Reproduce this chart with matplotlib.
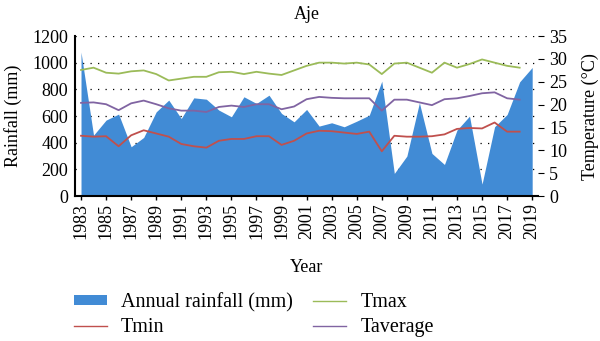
import matplotlib
matplotlib.use("Agg")
import matplotlib.pyplot as plt
from matplotlib.patches import Patch
from matplotlib.lines import Line2D

plt.rcParams['font.family'] = ['Liberation Serif', 'DejaVu Serif']

years = list(range(1983, 2020))
rainfall = [1080, 457, 570, 615, 370, 440, 632, 720, 582, 737, 727, 645, 595, 745, 695, 757,
            620, 557, 650, 525, 550, 520, 562, 607, 862, 170, 300, 700, 320, 237, 495, 600,
            90, 520, 612, 857, 965]
temp_years = list(range(1983, 2019))
tmax = [27.6, 28.1, 27.0, 26.8, 27.3, 27.5, 26.7, 25.3, 25.7, 26.1, 26.1, 27.1, 27.2, 26.7,
        27.2, 26.8, 26.5, 27.5, 28.5, 29.2, 29.2, 29.0, 29.2, 28.8, 26.7, 29.0, 29.2, 28.1,
        27.0, 29.2, 28.1, 28.9, 29.9, 29.2, 28.5, 28.1]
tavg = [20.4, 20.5, 20.1, 18.8, 20.3, 20.9, 20.1, 19.2, 18.7, 18.7, 18.4, 19.5, 19.8, 19.5,
        20.1, 20.1, 19.0, 19.6, 21.2, 21.7, 21.5, 21.4, 21.4, 21.4, 18.7, 21.1, 21.1, 20.5,
        19.9, 21.2, 21.4, 21.9, 22.5, 22.7, 21.4, 21.1]
tmin = [13.2, 13.0, 13.1, 10.9, 13.3, 14.4, 13.7, 13.0, 11.4, 10.9, 10.6, 12.1, 12.5, 12.5,
        13.1, 13.1, 11.2, 12.1, 13.7, 14.3, 14.2, 13.9, 13.6, 14.1, 9.8, 13.2, 13.0, 13.0,
        13.1, 13.5, 14.7, 14.9, 14.8, 16.1, 14.1, 14.1]

c_rain = '#418bd5'
c_tmax = '#9bbb59'
c_tmin = '#c0504d'
c_tavg = '#8064a2'

FS = 13

fig = plt.figure(figsize=(6, 3.41), dpi=100)
ax = fig.add_axes([0.125, 0.425, 0.772, 0.469])
ax.fill_between(years, rainfall, 0, color=c_rain, linewidth=0, zorder=2)
ax.set_xlim(1982.52, 2019.48)
ax.set_ylim(0, 1200)
ax.set_yticks(range(0, 1201, 200))
for v in range(200, 1201, 200):
    ax.axhline(v, color='black', linestyle=(0, (1, 5)), linewidth=0.9, zorder=1)
ax.set_xticks(range(1983, 2020, 2))
ax.set_xticklabels([str(y) for y in range(1983, 2020, 2)], rotation=90, fontsize=FS)
ax.tick_params(axis='y', labelsize=FS, length=0, pad=5)
ax.tick_params(axis='x', length=3, width=1, pad=2)
for s in ['top', 'right']:
    ax.spines[s].set_visible(False)
ax.spines['left'].set_linewidth(1.5)
ax.spines['bottom'].set_linewidth(1.5)
ax.set_ylabel('Rainfall (mm)', fontsize=FS, labelpad=7)
ax.set_xlabel('Year', fontsize=FS, labelpad=14)
ax.set_title('Aje', fontsize=FS, pad=12)

ax2 = ax.twinx()
ax2.plot(temp_years, tmax, color=c_tmax, linewidth=1.3, zorder=3)
ax2.plot(temp_years, tavg, color=c_tavg, linewidth=1.3, zorder=3)
ax2.plot(temp_years, tmin, color=c_tmin, linewidth=1.3, zorder=3)
ax2.set_ylim(0, 35)
ax2.set_yticks(range(0, 36, 5))
ax2.tick_params(axis='y', labelsize=FS, length=4, width=0.8, pad=4)
for s in ['top', 'right', 'left', 'bottom']:
    ax2.spines[s].set_visible(False)
ax2.set_ylabel('Temperature (°C)', fontsize=FS, labelpad=10)

handles = [Patch(facecolor=c_rain, edgecolor='none', label='Annual rainfall (mm)'),
           Line2D([0], [0], color=c_tmin, linewidth=1, label='Tmin'),
           Line2D([0], [0], color=c_tmax, linewidth=1, label='Tmax'),
           Line2D([0], [0], color=c_tavg, linewidth=1, label='Taverage')]
fig.legend(handles=handles, loc='upper left', bbox_to_anchor=(0.123, 0.142), ncol=2,
           frameon=False, fontsize=14.5, handlelength=1.65, handleheight=0.4,
           handletextpad=0.7, columnspacing=1.0, labelspacing=0.3,
           borderpad=0, borderaxespad=0)

fig.savefig('out.png', dpi=100)
